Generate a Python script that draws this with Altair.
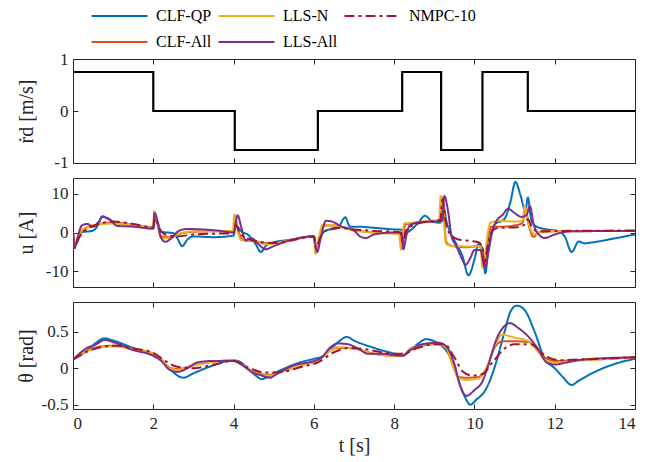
import altair as alt
import pandas as pd

FONT = "'Liberation Serif', 'Times New Roman', 'DejaVu Serif', serif"
X_TICKS = [0, 2, 4, 6, 8, 10, 12, 14]

# legend is filled column by column: (CLF-QP, CLF-All), (LLS-N, LLS-All), (NMPC-10)
SERIES = ["CLF-QP", "CLF-All", "LLS-N", "LLS-All", "NMPC-10"]
COLORS = ["#0072BD", "#D95319", "#EDB120", "#7E2F8E", "#A2142F"]
DASHES = [[1, 0], [1, 0], [1, 0], [1, 0], [10, 4, 3, 4]]

# reference velocity (step)
REF_T = [0, 2.0, 4.03, 6.1, 8.2, 9.17, 10.2, 11.33, 14]
REF_V = [0.75, 0, -0.75, 0, 0.75, -0.75, 0.75, 0, 0]
REF_TICKS = [-1.0, 0.0, 1.0]

# input current u [A]
U_CLF_QP = [(0, 0), (0.03, -3.8), (0.08, -3.0), (0.2, 0.0), (0.5, 0.5), (0.6, 1.5), (0.73, 4.2), (0.85, 3.6),
            (1.1, 2.4), (1.5, 1.9), (2.0, 1.0), (2.03, 5.0), (2.1, 3.0), (2.2, 0.2), (2.5, -0.2), (2.6, -1.5),
            (2.72, -3.5), (2.85, -1.8), (3.0, -1.0), (3.5, -1.2), (4.0, -0.8), (4.05, 2.0), (4.2, 0.2),
            (4.35, -0.5), (4.55, -3.0), (4.68, -5.0), (4.8, -3.5), (5.0, -2.5), (5.5, -1.8), (6.0, -0.9),
            (6.05, -4.5), (6.15, -1.5), (6.3, 0.5), (6.6, 1.2), (6.78, 3.9), (6.9, 1.5), (7.1, 1.5), (7.5, 1.2),
            (8.0, 0.8), (8.2, 0.7), (8.27, -0.2), (8.4, 0.5), (8.6, 2.5), (8.77, 4.3), (8.95, 2.8), (9.15, 2.5),
            (9.22, 7.0), (9.3, 3.0), (9.4, 0.0), (9.5, -2.0), (9.7, -6.0), (9.85, -11.0), (10.0, -7.0),
            (10.1, -3.0), (10.2, -4.0), (10.27, -10.5), (10.35, -4.0), (10.5, 2.0), (10.75, 3.5), (10.9, 8.0),
            (11.02, 13.0), (11.15, 9.5), (11.27, 5.5), (11.33, 9.0), (11.42, 3.0), (11.55, 1.5), (11.8, 0.8),
            (12.1, 0.3), (12.25, -1.0), (12.42, -5.0), (12.6, -2.3), (12.75, -2.8), (12.9, -2.6), (13.5, -1.5),
            (14.0, -0.5)]
U_CLF_ALL = [(0, 0), (0.04, -3.5), (0.15, -1.0), (0.3, 1.0), (0.6, 2.0), (1.0, 2.6), (1.5, 2.0), (2.0, 1.3),
             (2.03, 5.0), (2.1, 2.5), (2.2, -1.0), (2.4, -1.2), (2.6, -0.5), (3.0, 0.2), (3.5, 0.3), (4.0, 0.3),
             (4.03, 4.0), (4.12, 0.5), (4.25, -2.0), (4.5, -2.2), (4.9, -2.8), (5.5, -1.7), (6.0, -1.0),
             (6.05, -5.0), (6.15, -1.5), (6.25, 1.8), (6.5, 1.8), (7.0, 0.6), (7.5, 0.0), (8.0, -0.2),
             (8.15, -0.3), (8.2, -4.0), (8.27, 2.0), (8.5, 2.5), (9.0, 3.0), (9.15, 3.2), (9.2, 9.0), (9.3, -2.5),
             (9.45, -3.5), (9.8, -3.8), (10.1, -3.5), (10.2, -5.0), (10.24, -8.5), (10.32, -3.0), (10.42, 1.5),
             (10.7, 1.5), (11.0, 1.8), (11.2, 2.5), (11.27, 6.3), (11.35, 2.0), (11.47, -1.1), (11.6, 0.0),
             (12.0, 0.3), (14.0, 0.4)]
U_LLS_N = [(0, 0), (0.04, -3.5), (0.15, -0.5), (0.3, 1.2), (0.6, 2.0), (1.0, 2.3), (1.5, 2.0), (2.0, 1.2),
           (2.02, 5.5), (2.1, 2.5), (2.2, -1.5), (2.4, -1.5), (2.6, -0.5), (3.0, 0.3), (3.5, 0.3), (3.98, 0.3),
           (4.02, 4.6), (4.1, 0.5), (4.2, -2.0), (4.5, -2.0), (4.8, -3.0), (5.5, -1.8), (6.0, -1.0),
           (6.04, -5.5), (6.13, -1.0), (6.22, 2.0), (6.5, 1.8), (7.0, 0.5), (7.5, 0.0), (8.0, -0.3),
           (8.12, -0.3), (8.17, -4.4), (8.25, 2.3), (8.5, 2.5), (9.0, 3.0), (9.12, 3.0), (9.16, 9.4),
           (9.22, 5.0), (9.3, -3.0), (9.5, -3.5), (10.0, -3.6), (10.15, -3.5), (10.2, -9.0), (10.26, -6.0),
           (10.32, -1.0), (10.4, 2.5), (10.6, 3.0), (11.0, 2.8), (11.2, 3.0), (11.25, 6.8), (11.33, 3.0),
           (11.5, -0.5), (11.7, 0.3), (12.0, 0.4), (14.0, 0.4)]
U_LLS_ALL = [(0, 0), (0.03, -4.0), (0.12, -1.0), (0.22, 1.8), (0.35, 2.2), (0.5, 1.5), (0.62, 2.5), (0.75, 4.0),
             (0.9, 3.5), (1.1, 1.7), (1.5, 1.5), (2.0, 1.0), (2.03, 5.0), (2.1, 3.0), (2.18, -1.0), (2.3, -2.4),
             (2.45, -1.5), (2.65, 0.5), (2.85, 0.9), (3.2, 0.8), (3.6, 0.5), (4.0, 0.0), (4.1, 4.4), (4.2, 1.0),
             (4.3, -2.0), (4.45, -1.5), (4.6, -2.8), (4.8, -4.3), (5.0, -3.5), (5.5, -1.7), (6.0, -1.0),
             (6.08, -5.0), (6.18, -1.0), (6.3, 3.0), (6.45, 2.8), (6.7, 1.5), (7.0, 0.5), (7.15, -1.0),
             (7.3, -1.4), (7.5, -0.5), (8.0, 0.0), (8.18, 0.0), (8.23, -4.3), (8.3, -1.0), (8.4, 2.0), (8.7, 2.7),
             (9.0, 2.8), (9.2, 3.0), (9.25, 9.4), (9.35, 5.0), (9.43, -1.0), (9.55, -3.5), (9.7, -7.0),
             (9.78, -8.3), (9.9, -6.5), (10.0, -4.5), (10.15, -4.5), (10.26, -9.1), (10.35, -5.0), (10.45, 0.5),
             (10.55, 3.0), (10.7, 4.5), (10.84, 6.1), (11.0, 5.0), (11.17, 4.0), (11.3, 4.5), (11.38, 6.8),
             (11.48, 2.0), (11.6, -0.5), (11.75, -1.4), (12.0, -0.5), (12.4, 0.3), (14.0, 0.4)]
U_NMPC = [(0, 0), (0.04, -4.0), (0.12, -2.0), (0.3, 0.5), (0.6, 2.0), (1.0, 2.8), (1.5, 2.2), (2.0, 1.3),
          (2.05, 3.5), (2.15, 1.0), (2.3, -0.5), (2.6, -1.0), (3.0, -0.5), (3.5, -0.3), (4.0, -0.2), (4.05, 2.0),
          (4.15, 0.0), (4.35, -1.5), (4.7, -2.5), (5.0, -2.7), (5.5, -1.9), (6.0, -1.0), (6.05, -4.0),
          (6.15, -1.5), (6.3, 0.5), (6.6, 1.2), (7.0, 0.8), (7.5, 0.4), (8.0, 0.2), (8.15, 0.0), (8.22, -2.5),
          (8.3, 0.5), (8.5, 2.0), (9.0, 3.0), (9.15, 3.2), (9.2, 8.5), (9.28, 3.0), (9.4, -0.5), (9.6, -1.8),
          (9.9, -2.2), (10.1, -2.5), (10.2, -4.0), (10.25, -8.5), (10.32, -4.0), (10.45, 0.5), (10.6, 1.2),
          (11.0, 1.3), (11.25, 2.0), (11.33, 3.4), (11.45, 1.0), (11.6, 0.3), (12.0, 0.4), (14.0, 0.5)]

# pendulum angle theta [rad]
TH_CLF_QP = [(0, 0.12), (0.3, 0.22), (0.55, 0.34), (0.78, 0.41), (1.0, 0.38), (1.5, 0.28), (2.0, 0.19),
             (2.15, 0.14), (2.35, 0.03), (2.55, -0.08), (2.75, -0.13), (3.0, -0.07), (3.5, 0.04), (4.0, 0.11),
             (4.15, 0.09), (4.35, 0.0), (4.55, -0.1), (4.7, -0.15), (4.9, -0.1), (5.2, -0.02), (5.6, 0.07),
             (6.0, 0.13), (6.2, 0.16), (6.45, 0.28), (6.65, 0.38), (6.82, 0.43), (7.0, 0.38), (7.5, 0.28),
             (8.0, 0.2), (8.2, 0.17), (8.45, 0.27), (8.6, 0.34), (8.8, 0.4), (9.0, 0.37), (9.2, 0.3),
             (9.4, 0.15), (9.55, -0.08), (9.75, -0.38), (9.9, -0.5), (10.05, -0.43), (10.25, -0.32),
             (10.4, -0.15), (10.55, 0.1), (10.75, 0.5), (10.9, 0.78), (11.05, 0.86), (11.25, 0.8), (11.5, 0.5),
             (11.75, 0.13), (12.0, 0.0), (12.2, -0.12), (12.42, -0.23), (12.6, -0.17), (13.0, -0.05),
             (13.5, 0.06), (14.0, 0.13)]
TH_CLF_ALL = [(0, 0.12), (0.3, 0.23), (0.6, 0.29), (1.0, 0.31), (1.5, 0.26), (2.0, 0.2), (2.2, 0.12),
              (2.4, 0.01), (2.6, -0.01), (3.0, 0.04), (3.5, 0.09), (4.0, 0.11), (4.2, 0.05), (4.5, -0.05),
              (4.9, -0.09), (5.3, -0.03), (5.8, 0.06), (6.1, 0.1), (6.35, 0.22), (6.6, 0.28), (7.0, 0.27),
              (7.5, 0.2), (8.0, 0.17), (8.2, 0.17), (8.4, 0.26), (8.7, 0.31), (9.1, 0.33), (9.3, 0.28),
              (9.45, 0.06), (9.6, -0.12), (9.8, -0.13), (10.1, -0.12), (10.3, 0.0), (10.5, 0.28), (10.7, 0.37),
              (11.0, 0.37), (11.35, 0.36), (11.55, 0.27), (11.75, 0.15), (12.0, 0.1), (12.5, 0.11), (13.0, 0.12),
              (14.0, 0.15)]
TH_LLS_N = [(0, 0.12), (0.3, 0.22), (0.6, 0.28), (1.0, 0.3), (1.5, 0.26), (2.0, 0.2), (2.2, 0.12), (2.4, 0.0),
            (2.6, -0.02), (3.0, 0.04), (3.5, 0.09), (4.0, 0.11), (4.2, 0.05), (4.5, -0.05), (4.9, -0.1),
            (5.3, -0.03), (5.8, 0.06), (6.1, 0.1), (6.35, 0.22), (6.6, 0.29), (7.0, 0.27), (7.5, 0.2),
            (8.0, 0.17), (8.2, 0.17), (8.4, 0.27), (8.7, 0.32), (9.1, 0.33), (9.3, 0.28), (9.45, 0.05),
            (9.6, -0.13), (9.8, -0.16), (10.1, -0.14), (10.3, 0.0), (10.5, 0.3), (10.7, 0.46), (11.0, 0.42),
            (11.35, 0.37), (11.55, 0.25), (11.75, 0.12), (12.0, 0.08), (12.5, 0.1), (13.0, 0.12), (14.0, 0.15)]
TH_LLS_ALL = [(0, 0.12), (0.2, 0.22), (0.35, 0.28), (0.55, 0.32), (0.8, 0.39), (1.0, 0.36), (1.5, 0.25),
              (2.0, 0.17), (2.2, 0.1), (2.4, -0.02), (2.6, -0.05), (2.85, 0.0), (3.1, 0.08), (3.5, 0.1),
              (4.0, 0.1), (4.2, 0.05), (4.45, -0.05), (4.7, -0.1), (4.9, -0.13), (5.1, -0.07), (5.5, 0.04),
              (6.0, 0.1), (6.2, 0.15), (6.4, 0.28), (6.6, 0.34), (6.85, 0.33), (7.1, 0.27), (7.35, 0.2),
              (7.7, 0.2), (8.0, 0.18), (8.2, 0.17), (8.4, 0.25), (8.7, 0.33), (9.1, 0.35), (9.3, 0.3),
              (9.5, 0.06), (9.65, -0.25), (9.8, -0.38), (10.0, -0.3), (10.2, -0.18), (10.35, 0.05),
              (10.55, 0.4), (10.75, 0.58), (10.88, 0.62), (11.1, 0.55), (11.4, 0.4), (11.6, 0.25), (11.8, 0.08),
              (12.0, 0.05), (12.3, 0.08), (12.7, 0.12), (14.0, 0.15)]
TH_NMPC = [(0, 0.12), (0.4, 0.24), (0.8, 0.3), (1.1, 0.31), (1.5, 0.27), (2.0, 0.21), (2.3, 0.1), (2.6, 0.02),
           (3.0, 0.0), (3.5, 0.05), (4.0, 0.1), (4.4, 0.0), (4.8, -0.06), (5.2, -0.05), (5.7, 0.02), (6.1, 0.08),
           (6.5, 0.22), (6.9, 0.28), (7.3, 0.26), (7.8, 0.21), (8.2, 0.2), (8.6, 0.28), (9.0, 0.33),
           (9.25, 0.33), (9.5, 0.15), (9.7, -0.04), (9.95, -0.1), (10.2, -0.08), (10.45, 0.08), (10.75, 0.27),
           (11.0, 0.33), (11.4, 0.33), (11.8, 0.16), (12.1, 0.11), (12.6, 0.12), (14.0, 0.15)]

U_DATA = {"CLF-QP": U_CLF_QP, "CLF-All": U_CLF_ALL, "LLS-N": U_LLS_N, "LLS-All": U_LLS_ALL, "NMPC-10": U_NMPC}
TH_DATA = {"CLF-QP": TH_CLF_QP, "CLF-All": TH_CLF_ALL, "LLS-N": TH_LLS_N, "LLS-All": TH_LLS_ALL,
           "NMPC-10": TH_NMPC}


def frame(d):
    rows = []
    for name, pts in d.items():
        for t, v in pts:
            rows.append({"series": name, "t": t, "v": v})
    return pd.DataFrame(rows)


ref_df = pd.DataFrame({"t": REF_T, "v": REF_V})
u_df = frame(U_DATA)
th_df = frame(TH_DATA)

W = 562
TICK = 5
xscale = alt.Scale(domain=[0, 14], nice=False, zero=False)

LEGEND = alt.Legend(orient="none", legendX=17, legendY=-51, columns=3, title=None,
                    symbolType="stroke", symbolSize=3136, symbolStrokeWidth=2.2,
                    labelFont=FONT, labelFontSize=16, labelColor="black", clipHeight=16,
                    rowPadding=10, columnPadding=5, labelOffset=7, gridAlign="each")


def bottom_axis(show):
    if show:
        return alt.Axis(orient="bottom", values=X_TICKS, tickCount=20, title="t [s]", offset=-TICK,
                        tickSize=TICK, domain=False, grid=False, labelPadding=6, titlePadding=4, format="d",
                        labelOverlap=False)
    return alt.Axis(orient="bottom", values=X_TICKS, tickCount=20, title=None, labels=False, offset=-TICK,
                    tickSize=TICK, domain=False, grid=False)


def top_axis():
    return alt.Axis(orient="top", values=X_TICKS, tickCount=20, title=None, labels=False, offset=-TICK,
                    tickSize=TICK, domain=False, grid=False)


def left_axis(title, ticks, fmt):
    return alt.Axis(orient="left", values=ticks, tickCount=10, title=title, format=fmt, offset=-TICK,
                    tickSize=TICK, domain=False, grid=False, labelPadding=5, titleX=-52,
                    titleBaseline="middle", labelOverlap=False, labelFlush=False,
                    labelExpr="abs(datum.value) < 1e-9 ? '0' : datum.label")


def right_axis(ticks):
    return alt.Axis(orient="right", values=ticks, tickCount=10, title=None, labels=False, offset=-TICK,
                    tickSize=TICK, domain=False, grid=False)


def helper(df, yscale, yticks):
    return alt.Chart(df).mark_line(strokeOpacity=0).encode(
        x=alt.X("t:Q", scale=xscale, axis=top_axis()),
        y=alt.Y("v:Q", scale=yscale, axis=right_axis(yticks)),
    )


def series_panel(df, ytitle, ydomain, yticks, fmt, show_x, height, interp):
    yscale = alt.Scale(domain=ydomain, nice=False, zero=False)
    layers = []
    for i, s in enumerate(SERIES):
        first = i == 0
        layers.append(
            alt.Chart(df).transform_filter(alt.datum.series == s).mark_line(
                strokeWidth=2, clip=True, interpolate=interp
            ).encode(
                x=alt.X("t:Q", scale=xscale, axis=bottom_axis(show_x) if first else None),
                y=alt.Y("v:Q", scale=yscale, axis=left_axis(ytitle, yticks, fmt) if first else None),
                color=alt.Color("series:N", scale=alt.Scale(domain=SERIES, range=COLORS), legend=LEGEND),
                strokeDash=alt.StrokeDash("series:N", scale=alt.Scale(domain=SERIES, range=DASHES),
                                          legend=LEGEND),
            )
        )
    layers.append(helper(df, yscale, yticks))
    return alt.layer(*layers).properties(width=W, height=height)


# panel 1: reference velocity
y1 = alt.Scale(domain=[-1.0001, 1.0001], nice=False, zero=False)
p1 = alt.layer(
    alt.Chart(ref_df).mark_line(color="black", strokeWidth=2.2, interpolate="step-after").encode(
        x=alt.X("t:Q", scale=xscale, axis=bottom_axis(False)),
        y=alt.Y("v:Q", scale=y1, axis=left_axis("ṙd [m/s]", REF_TICKS, ".0f")),
    ),
    helper(ref_df, y1, REF_TICKS),
).properties(width=W, height=104)

p2 = series_panel(u_df, "u [A]", [-14, 14], [-10, 0, 10], "d", False, 109, "monotone")
p3 = series_panel(th_df, "θ [rad]", [-0.56, 0.91], [-0.5, 0, 0.5], ".1~f", True, 107, "monotone")

chart = alt.vconcat(p1, p2, p3, spacing=15, bounds="flush").resolve_scale(
    color="shared", strokeDash="shared"
).properties(
    padding={"left": 7, "top": 0, "right": 5, "bottom": 5}
).configure_view(
    stroke="#262626", strokeWidth=1
).configure_axis(
    labelFont=FONT, labelFontSize=17, labelColor="#262626", tickColor="#262626", tickWidth=1,
    titleFont=FONT, titleFontSize=20, titleFontWeight="normal", titleColor="#262626", labelOverlap=False
)

chart.save("out.html", embed_options={
    "renderer": "svg", "actions": False,
    "formatLocale": {"decimal": ".", "thousands": ",", "grouping": [3], "currency": ["$", ""], "minus": "-"},
})
